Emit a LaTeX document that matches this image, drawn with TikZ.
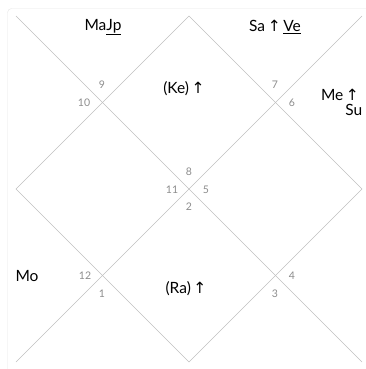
\documentclass[tikz,border=0pt]{standalone}
\usepackage{fontspec}
\setmainfont{Lato}
\newfontfamily\arrowfont{DejaVu Sans}
\newcommand{\up}{{\arrowfont\char"2191}}
\usetikzlibrary{positioning,calc}

\begin{document}
\begin{tikzpicture}[x=1pt, y=-1pt, font=\fontsize{15.5}{16}\selectfont,
    chartline/.style={draw=black!25, line width=0.6pt},
    housenum/.style={font=\fontsize{10.5}{11}\selectfont, text=black!45, inner sep=0pt},
    planet/.style={inner sep=0pt}]
  \useasboundingbox (0,0) rectangle (366,369);
  \clip (0,0) rectangle (366,369);
  \draw[black!10, rounded corners=4pt] (7.5,8.5) rectangle (380,380);
  % corners and mid points of the chart
  \coordinate (tl) at (16,16);
  \coordinate (tr) at (362,16);
  \coordinate (bl) at (16,362);
  \coordinate (br) at (362,362);
  \coordinate (top) at (189,16);
  \coordinate (left) at (16,189);
  \coordinate (bottom) at (189,362);
  \coordinate (right) at (362,189);
  \draw[chartline] (tl) -- (br);
  \draw[chartline] (tr) -- (bl);
  \draw[chartline] (top) -- (right) -- (bottom) -- (left) -- cycle;
  % house numbers
  \node[housenum] (h9) at (102,85) {9};
  \node[housenum] (h10) at (84,103) {10};
  \node[housenum] (h7) at (275,85) {7};
  \node[housenum] (h6) at (292,103) {6};
  \node[housenum] (h8) at (189,172) {8};
  \node[housenum] (h11) at (172,190) {11};
  \node[housenum] (h5) at (206,190) {5};
  \node[housenum] (h2) at (189,207) {2};
  \node[housenum] (h12) at (85,276) {12};
  \node[housenum] (h1) at (102,294) {1};
  \node[housenum] (h4) at (292,276) {4};
  \node[housenum] (h3) at (275,294) {3};
  % planets
  \node[planet] (majp) at (103,27) {Ma\underline{Jp}};
  \node[planet] (save) at (275,27) {Sa\,\up\,\underline{Ve}};
  \node[planet] (ke) at (184,89) {(Ke)\,\up};
  \node[planet] (me) at (340,95) {Me\,\up};
  \node[planet, anchor=east] (su) at (362.5,110) {Su};
  \node[planet] (mo) at (27,276) {Mo};
  \node[planet] (ra) at (186,289) {(Ra)\,\up};
\end{tikzpicture}
\end{document}
